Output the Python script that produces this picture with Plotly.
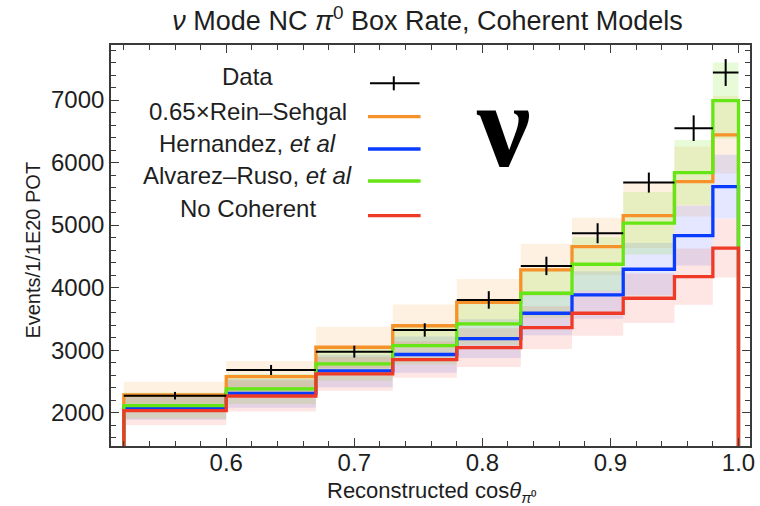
import plotly.graph_objects as go

# ---- data ----
edges = [0.52, 0.60, 0.67, 0.73, 0.78, 0.83, 0.87, 0.91, 0.95, 0.98, 1.00]
data_vals = [2272, 2683, 2976, 3323, 3803, 4347, 4870, 5680, 6550, 7440]
data_err = [60, 80, 95, 107, 140, 147, 160, 160, 205, 215]

rein = [2283, 2576, 3046, 3390, 3766, 4283, 4656, 5152, 5696, 6443]
rein_err = [210, 250, 330, 340, 370, 420, 460, 520, 560, 620]
hern = [2086, 2310, 2667, 2930, 3184, 3590, 3883, 4294, 4832, 5616]
hern_err = [200, 230, 260, 290, 310, 350, 380, 420, 480, 510]
alva = [2112, 2379, 2779, 3072, 3419, 3910, 4374, 5030, 5840, 6992]
alva_err = [210, 240, 270, 300, 340, 390, 430, 500, 520, 610]
noco = [2032, 2267, 2619, 2848, 3040, 3360, 3590, 3830, 4176, 4630]
noco_err = [230, 250, 270, 290, 310, 340, 360, 395, 450, 470]

x_ticks = [0.6, 0.7, 0.8, 0.9, 1.0]
y_ticks = [2000, 3000, 4000, 5000, 6000, 7000]

models = [
    ("0.65×Rein–Sehgal", rein, rein_err, "#f5922a", "rgba(247,148,29,0.13)"),
    ("Hernandez, <i>et al</i>", hern, hern_err, "#0a3cff", "rgba(30,60,255,0.12)"),
    ("Alvarez–Ruso, <i>et al</i>", alva, alva_err, "#66e614", "rgba(102,225,0,0.15)"),
    ("No Coherent", noco, noco_err, "#ee3a26", "rgba(235,50,35,0.12)"),
]

FONT = "Liberation Sans, Arial, Helvetica, sans-serif"
TXT = "#1e1e1e"

fig = go.Figure()

# uncertainty bands (per-bin rectangles via hv steps)
for name, vals, errs, col, band in models:
    lo = [v - e for v, e in zip(vals, errs)]
    hi = [v + e for v, e in zip(vals, errs)]
    fig.add_trace(go.Scatter(x=edges, y=lo + [lo[-1]], mode="lines",
                             line=dict(width=0, shape="hv"), hoverinfo="skip",
                             showlegend=False))
    fig.add_trace(go.Scatter(x=edges, y=hi + [hi[-1]], mode="lines",
                             line=dict(width=0, shape="hv"), fill="tonexty",
                             fillcolor=band, hoverinfo="skip", showlegend=False))

# stepped histogram lines, dropping to the axis floor at both ends
base = 0
for name, vals, errs, col, band in models:
    xs = [edges[0]]
    ys = [base]
    for i, v in enumerate(vals):
        xs += [edges[i], edges[i + 1]]
        ys += [v, v]
    xs.append(edges[-1])
    ys.append(base)
    fig.add_trace(go.Scatter(x=xs, y=ys, mode="lines",
                             line=dict(color=col, width=3.3),
                             name=name, showlegend=False))

# data crosses
centers = [(a + b) / 2 for a, b in zip(edges[:-1], edges[1:])]
halfw = [(b - a) / 2 for a, b in zip(edges[:-1], edges[1:])]
fig.add_trace(go.Scatter(
    x=centers, y=data_vals, mode="markers",
    marker=dict(size=2, color="black"),
    error_x=dict(type="data", array=halfw, width=0, thickness=2, color="black"),
    error_y=dict(type="data", array=data_err, width=0, thickness=2, color="black"),
    name="Data", showlegend=False))

# ---- custom legend (text left, sample right) ----
L, T, W, H = 111, 45, 644, 401
def px(xp):
    return (xp - L) / W
def py(yp):
    return 1 - (yp - T) / H

legend_items = [("Data", None, 76.7, 83.3)] + [
    (m[0], m[3], ty, ly) for m, ty, ly in zip(models, [111.7, 143.5, 175.5, 208], [116.7, 149, 181, 215.7])
]
annotations = []
shapes = []
for label, col, ty, ly in legend_items:
    annotations.append(dict(text=label, x=px(249), y=py(ty), xref="paper", yref="paper",
                            xanchor="center", yanchor="middle", showarrow=False,
                            font=dict(family=FONT, size=24, color=TXT)))
    if col is None:
        shapes.append(dict(type="line", xref="paper", yref="paper", x0=px(372), x1=px(422),
                           y0=py(ly), y1=py(ly), line=dict(color="black", width=2)))
        shapes.append(dict(type="line", xref="paper", yref="paper", x0=px(396), x1=px(396),
                           y0=py(ly - 7), y1=py(ly + 7), line=dict(color="black", width=2)))
    else:
        shapes.append(dict(type="line", xref="paper", yref="paper", x0=px(370), x1=px(423),
                           y0=py(ly), y1=py(ly), line=dict(color=col, width=3.3)))

# big nu
annotations.append(dict(text="<b>ν</b>", x=px(507), y=py(125), xref="paper", yref="paper",
                        xanchor="center", yanchor="middle", showarrow=False,
                        font=dict(family="Liberation Serif, Times New Roman, serif", size=120,
                                  color="black")))
# axis titles
annotations.append(dict(text="Reconstructed cos<i>θ</i><sub><i>π</i>⁰</sub>", x=px(435), y=py(492),
                        xref="paper", yref="paper", xanchor="center", yanchor="middle",
                        showarrow=False, font=dict(family=FONT, size=22, color=TXT)))
annotations.append(dict(text="Events/1/1E20 POT", x=px(32), y=py(250), xref="paper", yref="paper",
                        xanchor="center", yanchor="middle", textangle=-90,
                        showarrow=False, font=dict(family=FONT, size=20, color=TXT)))

axis_common = dict(showline=True, linecolor="#3a3a3a", linewidth=1.6, mirror="allticks",
                   ticks="inside", tickcolor="#3a3a3a", tickwidth=1.4, ticklen=8,
                   showgrid=False, zeroline=False,
                   tickfont=dict(family=FONT, size=24, color=TXT))

fig.update_layout(
    width=760, height=506,
    margin=dict(l=L, r=760 - L - W, t=T, b=506 - T - H),
    paper_bgcolor="white", plot_bgcolor="white",
    title=dict(text="<i>ν</i> Mode NC <i>π</i><sup>0</sup> Box Rate, Coherent Models",
               x=px(430), xref="paper", xanchor="center",
               y=1 - 21 / 506, yref="container", yanchor="middle",
               font=dict(family=FONT, size=27, color=TXT)),
    xaxis=dict(range=[0.51, 1.009], tickvals=x_ticks,
               ticktext=[f"{v:.1f}" for v in x_ticks], ticklabelstandoff=-6,
               minor=dict(dtick=0.02, tick0=0.5, ticks="inside", ticklen=5,
                          tickcolor="#3a3a3a", tickwidth=1.2),
               **axis_common),
    yaxis=dict(range=[1467, 7880], tickvals=y_ticks,
               ticktext=[str(v) for v in y_ticks],
               minor=dict(dtick=200, tick0=0, ticks="inside", ticklen=5,
                          tickcolor="#3a3a3a", tickwidth=1.2),
               **axis_common),
    annotations=annotations, shapes=shapes, showlegend=False,
)

fig.write_html("out.html")
